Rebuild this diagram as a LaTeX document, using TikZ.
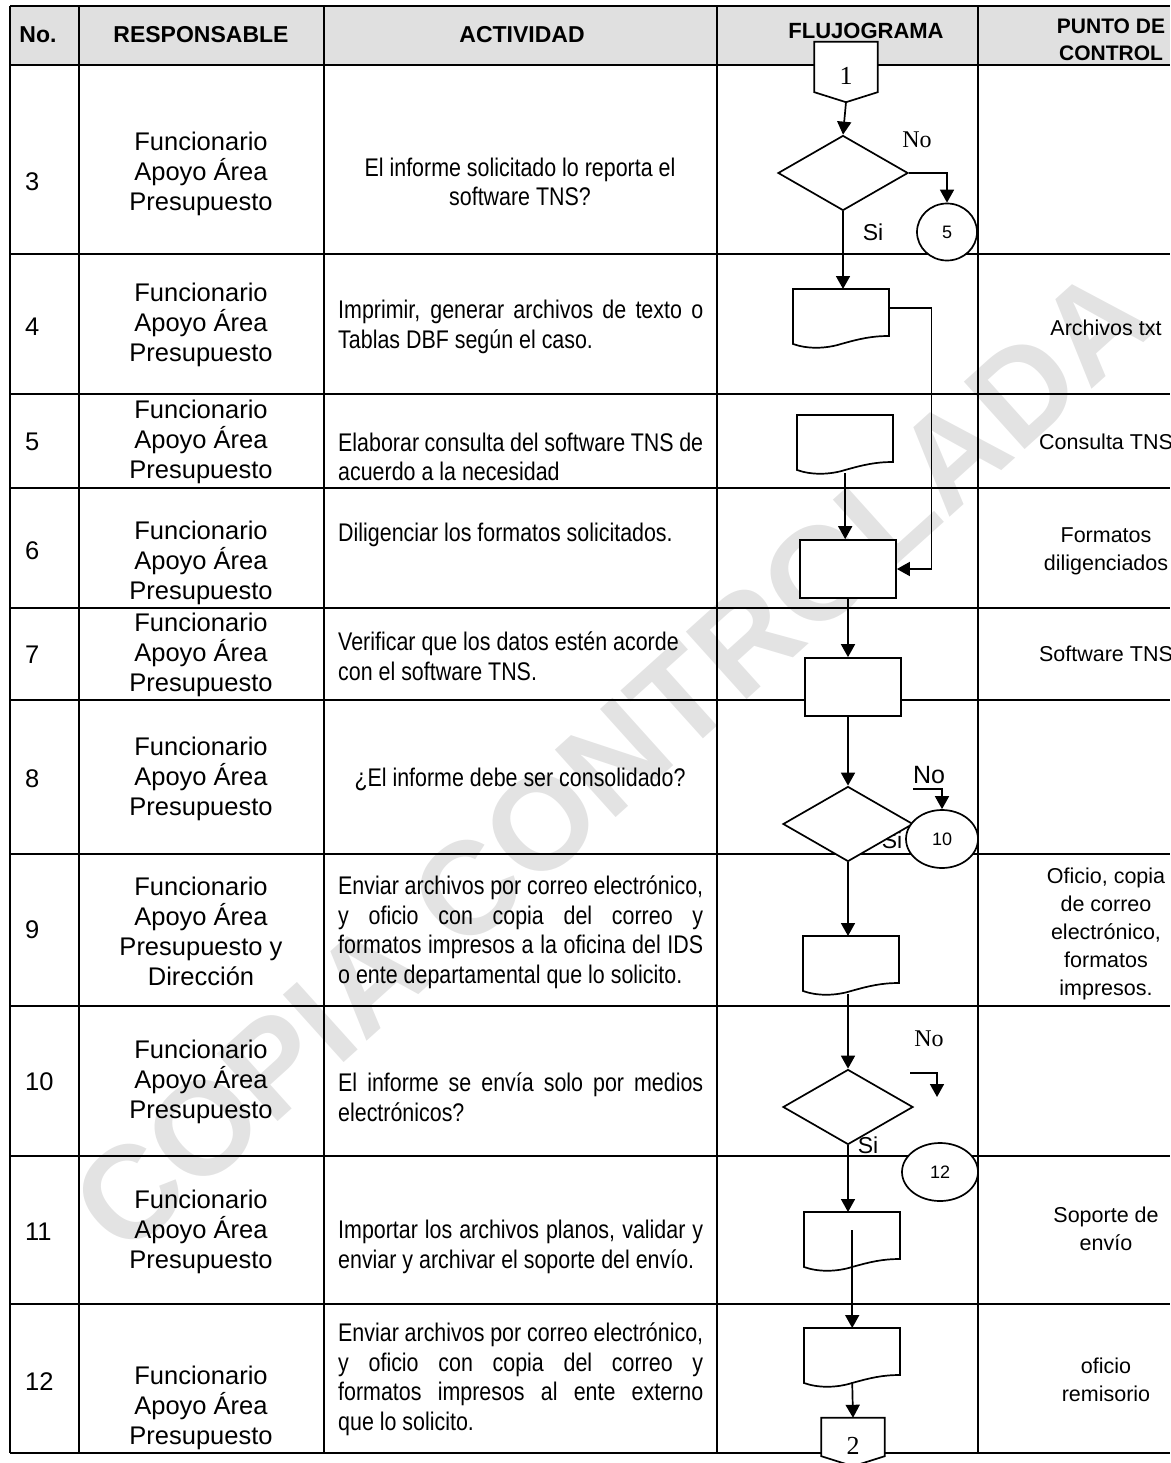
\documentclass[tikz,border=0pt]{standalone}
\usepackage{fontspec}
\setmainfont{Liberation Sans}
\newfontfamily\narrowfont[FakeStretch=0.84]{Liberation Sans}
\newfontfamily\timesfont{Liberation Serif}
\usetikzlibrary{shapes.geometric,arrows.meta}

\newcommand{\actsetup}{\tolerance=10000\relax\hbadness=10000\relax\hfuzz=20pt\relax\hyphenpenalty=10000\relax}

\tikzset{
  grid line/.style={line width=2.2pt},
  shape line/.style={line width=1.7pt,fill=white},
  flow/.style={line width=1.7pt,-{Triangle[length=13pt,width=14pt]}},
  hd/.style={font=\bfseries\fontsize{23}{27}\selectfont,align=center,inner sep=0pt},
  num/.style={anchor=west,font=\fontsize{25.5}{30}\selectfont,inner sep=0pt},
  resp/.style={align=center,font=\fontsize{25.5}{30}\selectfont,inner sep=0pt},
  act/.style={anchor=west,text width=365pt,align=justify,inner sep=0pt,
    font=\narrowfont\fontsize{25.5}{29.5}\selectfont\actsetup},
  actc/.style={align=center,inner sep=0pt,font=\narrowfont\fontsize{25.5}{29.5}\selectfont},
  pc/.style={align=center,font=\fontsize{21.5}{28}\selectfont,inner sep=0pt},
  watermark/.style={rotate=42,text=black!11,font=\bfseries\fontsize{132}{132}\selectfont,inner sep=0pt},
  decision/.style={diamond,draw,shape line,minimum width=130pt,minimum height=75pt,inner sep=0pt},
  proc/.style={rectangle,draw,shape line,minimum width=96pt,minimum height=58pt,inner sep=0pt},
  docbox/.style={rectangle,minimum width=96pt,minimum height=58pt,inner sep=0pt},
  offbox/.style={rectangle,minimum width=63pt,inner sep=0pt},
  conn/.style={ellipse,draw,shape line,inner sep=0pt,font=\fontsize{18}{18}\selectfont},
  yesno/.style={inner sep=0pt,font=\fontsize{23}{23}\selectfont},
  yesno serif/.style={inner sep=0pt,font=\timesfont\fontsize{24}{24}\selectfont}
}

% document symbol with wavy bottom
\newcommand{\flowdoc}[2]{%
  \node[docbox,anchor=north west] (#1) at (#2) {};
  \draw[shape line,shift={(#1.north west)}] (0,0) -- (96,0) -- (96,47)
    .. controls (78,47) and (66,50) .. (48,55)
    .. controls (32,60) and (14,60) .. (0,55) -- cycle;
}
% off-page connector
\newcommand{\offpage}[4]{%
  \node[offbox,minimum height=#3pt] (#1) at (#2) {};
  \draw[shape line] (#1.north west) -- (#1.north east) -- ([yshift=10pt]#1.south east)
    -- (#1.south) -- ([yshift=10pt]#1.south west) -- cycle;
  \node[font=\timesfont\fontsize{26}{26}\selectfont,inner sep=0pt] (#1t) at ([yshift=-4pt]#1.center) {#4};
}

\begin{document}
\begin{tikzpicture}[x=1pt,y=-1pt]
  \useasboundingbox (0,0) rectangle (1170,1463);
  \fill[black!12] (10,6) rectangle (1170,65);
  \node[watermark] (wm) at (612,760) {COPIA CONTROLADA};

  % table
  \draw[grid line] (10,6) -- (1170,6) (10,65) -- (1170,65) (10,254) -- (1170,254)
    (10,394) -- (1170,394) (10,488) -- (1170,488) (10,608) -- (1170,608)
    (10,700) -- (1170,700) (10,854) -- (1170,854) (10,1006) -- (1170,1006)
    (10,1156) -- (1170,1156) (10,1304) -- (1170,1304) (10,1453) -- (1170,1453);
  \draw[grid line] (10,6) -- (10,1453) (79,6) -- (79,1453) (324,6) -- (324,1453)
    (717,6) -- (717,1453) (978,6) -- (978,1453);

  \node[hd] (hno) at (38,35) {No.};
  \node[hd] (hresp) at (201,35) {RESPONSABLE};
  \node[hd] (hact) at (522,35) {ACTIVIDAD};
  \node[hd,font=\bfseries\fontsize{22}{27}\selectfont] (hflu) at (866,31) {FLUJOGRAMA};
  \node[hd,font=\bfseries\fontsize{21}{27}\selectfont] (hpc) at (1111,40) {PUNTO DE\\CONTROL};

  \node[num] (n3) at (25,182) {3};
  \node[num] (n4) at (25,327) {4};
  \node[num] (n5) at (25,442) {5};
  \node[num] (n6) at (25,551) {6};
  \node[num] (n7) at (25,655) {7};
  \node[num] (n8) at (25,779) {8};
  \node[num] (n9) at (25,930) {9};
  \node[num] (n10) at (25,1082) {10};
  \node[num] (n11) at (25,1232) {11};
  \node[num] (n12) at (25,1382) {12};

  \node[resp] (r3) at (201,174) {Funcionario\\Apoyo Área\\Presupuesto};
  \node[resp] (r4) at (201,325) {Funcionario\\Apoyo Área\\Presupuesto};
  \node[resp] (r5) at (201,442) {Funcionario\\Apoyo Área\\Presupuesto};
  \node[resp] (r6) at (201,563) {Funcionario\\Apoyo Área\\Presupuesto};
  \node[resp] (r7) at (201,655) {Funcionario\\Apoyo Área\\Presupuesto};
  \node[resp] (r8) at (201,779) {Funcionario\\Apoyo Área\\Presupuesto};
  \node[resp] (r9) at (201,931) {Funcionario\\Apoyo Área\\Presupuesto y\\Dirección};
  \node[resp] (r10) at (201,1082) {Funcionario\\Apoyo Área\\Presupuesto};
  \node[resp] (r11) at (201,1232) {Funcionario\\Apoyo Área\\Presupuesto};
  \node[resp] (r12) at (201,1408) {Funcionario\\Apoyo Área\\Presupuesto};

  \node[actc] (a3) at (520,182) {El informe solicitado lo reporta el\\software TNS?};
  \node[act] (a4) at (338,327) {Imprimir, generar archivos de texto o\linebreak Tablas DBF según el caso.};
  \node[act] (a5) at (338,457) {Elaborar consulta del software TNS de\linebreak acuerdo a la necesidad};
  \node[act] (a6) at (338,535) {Diligenciar los formatos solicitados.};
  \node[act] (a7) at (338,656) {Verificar que los datos estén acorde\\con el software TNS.};
  \node[actc] (a8) at (520,779) {¿El informe debe ser consolidado?};
  \node[act] (a9) at (338,932) {Enviar archivos por correo electrónico,\linebreak y oficio con copia del correo y\linebreak formatos impresos a la oficina del IDS\linebreak o ente departamental que lo solicito.};
  \node[act] (a10) at (338,1097) {El informe se envía solo por medios\linebreak electrónicos?};
  \node[act] (a11) at (338,1247) {Importar los archivos planos, validar y\linebreak enviar y archivar el soporte del envío.};
  \node[act] (a12) at (338,1379) {Enviar archivos por correo electrónico,\linebreak y oficio con copia del correo y\linebreak formatos impresos al ente externo\linebreak que lo solicito.};

  \node[pc] (p4) at (1106,328) {Archivos txt};
  \node[pc] (p5) at (1106,442) {Consulta TNS};
  \node[pc] (p6) at (1106,551) {Formatos\\diligenciados};
  \node[pc] (p7) at (1106,654) {Software TNS};
  \node[pc] (p9) at (1106,934) {Oficio, copia\\de correo\\electrónico,\\formatos\\impresos.};
  \node[pc] (p11) at (1106,1229) {Soporte de\\envío};
  \node[pc] (p12) at (1106,1380) {oficio\\remisorio};

  % flujograma
  \node[yesno] (q8si) at (892,840) {Si};
  \node[yesno] (q10si) at (868,1145) {Si};
  \offpage{op1}{846,72}{60}{1}
  \node[decision] (q3) at (843,173) {};
  \flowdoc{d4}{793,289}
  \flowdoc{d5}{797,415}
  \node[proc] (b6) at (848,569) {};
  \node[proc] (b7) at (853,687) {};
  \node[decision] (q8) at (848,824) {};
  \flowdoc{d9}{803,936}
  \node[decision] (q10) at (848,1107) {};
  \flowdoc{d11}{804,1212}
  \flowdoc{d12}{804,1328}
  \offpage{op2}{853,1442}{48}{2}

  \node[yesno serif] (q3no) at (917,140) {No};
  \node[yesno] (q3si) at (873,232) {Si};
  \node[yesno,font=\fontsize{25}{25}\selectfont] (q8no) at (929,775) {No};
  \node[yesno serif] (q10no) at (929,1039) {No};

  \node[conn,minimum width=60pt,minimum height=57pt] (c5) at (947,232) {5};
  \node[conn,minimum width=72pt,minimum height=58pt] (c10) at (942,839) {10};
  \node[conn,minimum width=76pt,minimum height=58pt] (c12) at (940,1172) {12};

  \coordinate (q8s) at (913,789);
  \coordinate (q10s) at (910,1073);
  \coordinate (q10e) at (937,1097);

  \draw[flow] (op1.south) -- (q3.north);
  \draw[flow] (q3.east) -| (c5.north);
  \draw[flow] (q3.south) -- (q3.south |- d4.north);
  \draw[flow] ([yshift=-19pt]d4.north east) -- ++(42,0) |- (b6.east);
  \draw[flow] (d5.south) -- (d5.south |- b6.north);
  \draw[flow] (b6.south) -- (b6.south |- b7.north);
  \draw[flow] (q8.north |- b7.south) -- (q8.north);
  \draw[flow] (q8s) -| (c10.north);
  \draw[flow] (q8.south) -- (q8.south |- d9.north);
  \draw[flow] (q10.north |- d9.south) -- (q10.north);
  \draw[flow] (q10s) -| (q10e);
  \draw[flow] (q10.south) -- (q10.south |- d11.north);
  \draw[flow] ([yshift=-18pt]d11.north) -- (d12.north);
  \draw[flow] ([yshift=-54pt]d12.north) -- (op2.north);
\end{tikzpicture}
\end{document}
